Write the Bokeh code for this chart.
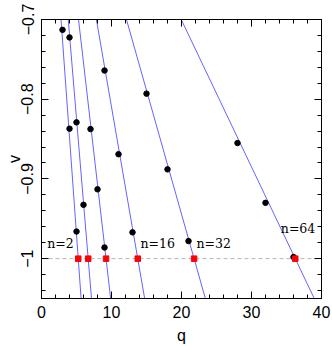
from bokeh.plotting import figure
from bokeh.models import FixedTicker, LinearAxis, CustomJSTickFormatter, Range1d
from bokeh.core.properties import value
from bokeh.embed import file_html
from bokeh.resources import INLINE

# ---- data ----
n_vals = [2, 4, 8, 16, 32, 64]
q_at_vm1 = [5.25, 6.67, 9.22, 13.75, 21.8, 36.25]   # red squares, q where v = -1
dq_dv = [8.2, 9.5, 13.1, 19.7, 32.2, 54.3]          # -dq/dv of each fitted line

pts_q = [3, 4, 5, 4, 5, 6, 7, 8, 9, 9, 11, 13, 15, 18, 21, 28, 32, 36]
pts_v = [-0.713, -0.837, -0.966, -0.7225, -0.829, -0.9325, -0.8375, -0.913, -0.986,
         -0.764, -0.869, -0.967, -0.793, -0.888, -0.978, -0.855, -0.930, -0.998]

label_text = ["n=2", "n=16", "n=32", "n=64"]
label_q = [0.81, 14.14, 22.14, 34.19]
label_v = [-0.981, -0.981, -0.981, -0.9616]

x_major = [0, 10, 20, 30, 40]
x_minor = [2 * i for i in range(21)]
y_major = [-1.0, -0.9, -0.8, -0.7]
y_minor = [round(-1.04 + 0.02 * i, 2) for i in range(18)]

v_ref = -1.0
v_top, v_bot = -0.7, -1.05

p = figure(width=332, height=346, output_backend="svg", toolbar_location=None,
           x_range=Range1d(0, 40), y_range=Range1d(v_bot, v_top),
           min_border_left=41, min_border_right=11, min_border_top=19, min_border_bottom=47,
           x_axis_location=None, y_axis_location=None)
p.grid.visible = False
p.outline_line_color = "black"
p.outline_line_width = 1
p.background_fill_color = "white"
p.border_fill_color = "white"

fmt = CustomJSTickFormatter(code="""
const s = (Math.round(tick*10)/10).toString();
return s.replace('-', '\\u2212');
""")

def make_axis(ticks, minor, show_labels):
    ax = LinearAxis(ticker=FixedTicker(ticks=ticks, minor_ticks=minor))
    ax.major_tick_in = 7
    ax.major_tick_out = 0
    ax.minor_tick_in = 4
    ax.minor_tick_out = 0
    ax.axis_line_color = "black"
    ax.major_tick_line_color = "black"
    ax.minor_tick_line_color = "black"
    if show_labels:
        ax.formatter = fmt
        ax.major_label_text_font = "Liberation Sans"
        ax.major_label_text_font_size = "16px"
        ax.major_label_text_color = "black"
        ax.major_label_standoff = 7
        ax.axis_label_text_font = "Liberation Sans"
        ax.axis_label_text_font_size = "16px"
        ax.axis_label_text_font_style = "normal"
        ax.axis_label_text_color = "black"
    else:
        ax.major_label_text_font_size = "0px"
        ax.major_label_standoff = 0
    return ax

bx = make_axis(x_major, x_minor, True)
bx.axis_label = "q"
bx.axis_label_standoff = 6
lx = make_axis(y_major, y_minor, True)
lx.major_label_orientation = "vertical"
lx.major_label_standoff = 8
lx.axis_label = "v"
lx.axis_label_standoff = -4
tx = make_axis(x_major, x_minor, False)
rx = make_axis(y_major, y_minor, False)
p.add_layout(bx, "below")
p.add_layout(lx, "left")
p.add_layout(tx, "above")
p.add_layout(rx, "right")

# dashed reference line at v = -1
p.line([0, 40], [v_ref, v_ref], line_color="#b4b4b4", line_dash="4 3", line_width=1)

# fitted lines
for q1, s in zip(q_at_vm1, dq_dv):
    qs = [q1 + s * (v_ref - v_top), q1 + s * (v_ref - v_bot)]
    p.line(qs, [v_top, v_bot], line_color="#6464ff", line_width=1)

# black points
p.scatter(pts_q, pts_v, size=5.5, color="black", marker="circle")

# red squares at v = -1
p.scatter(q_at_vm1, [v_ref] * len(q_at_vm1), size=5.5, marker="square",
          fill_color="#ff0000", line_color="#ff0000")

# n labels
p.text(label_q, label_v, text=label_text, text_font=value("DejaVu Serif"),
       text_font_size="12.5px", text_color="black", text_baseline="alphabetic",
       text_align="left")

open("out.html", "w").write(file_html(p, INLINE))
